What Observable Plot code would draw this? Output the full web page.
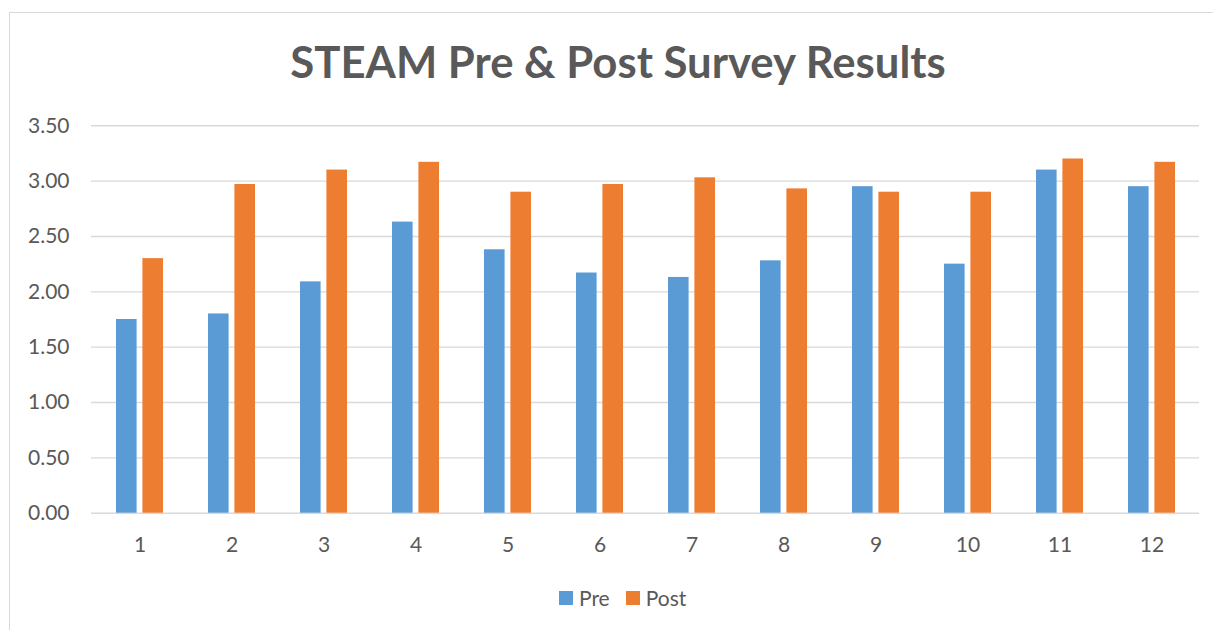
<!DOCTYPE html>
<html><head><meta charset="utf-8">
<script src="https://cdn.jsdelivr.net/npm/d3@7"></script>
<script src="https://cdn.jsdelivr.net/npm/@observablehq/plot@0.6"></script>
<style>
body{margin:0;background:#fff;}
#wrap{position:relative;width:1213px;height:630px;overflow:hidden;font-family:Lato,"Open Sans",sans-serif;color:#595959;background:#fff;}
#chart{position:absolute;left:0;top:0;}
#frame{position:absolute;left:9px;top:12px;width:1300px;height:700px;border:1px solid #d9d9d9;box-sizing:border-box;pointer-events:none;}
#title{position:absolute;left:618px;top:35px;transform:translateX(-50%);white-space:nowrap;font-size:43.7px;line-height:52.4px;font-weight:bold;color:#595959;}
#legend{position:absolute;left:559px;top:586px;display:flex;align-items:center;font-size:21px;line-height:24px;color:#595959;}
#legend .item{display:flex;align-items:center;margin-right:16px;}
#legend .sw{width:14px;height:14px;margin-right:6px;}
</style></head>
<body>
<div id="wrap">
  <div id="chart"></div>
  <div id="frame"></div>
  <div id="title"></div>
  <div id="legend"></div>
</div>
<script>
const titleText = "STEAM Pre & Post Survey Results";
const categories = ["1","2","3","4","5","6","7","8","9","10","11","12"];
const preValues  = [1.75, 1.80, 2.09, 2.63, 2.38, 2.17, 2.13, 2.28, 2.95, 2.25, 3.10, 2.95];
const postValues = [2.30, 2.97, 3.10, 3.17, 2.90, 2.97, 3.03, 2.93, 2.90, 2.90, 3.20, 3.17];
const seriesNames = ["Pre", "Post"];
const seriesColors = ["#5b9bd5", "#ed7d31"];
const yTicks = [0, 0.5, 1.0, 1.5, 2.0, 2.5, 3.0, 3.5];

const preData = categories.map((c, i) => ({category: c, value: preValues[i]}));
const postData = categories.map((c, i) => ({category: c, value: postValues[i]}));

const barInset = 26.4;

const chart = Plot.plot({
  width: 1213,
  height: 630,
  marginTop: 125.3,
  marginBottom: 117.3,
  marginLeft: 91,
  marginRight: 14,
  style: {fontFamily: "Lato, 'Open Sans', sans-serif", fontSize: "21px", color: "#595959", background: "transparent"},
  x: {type: "band", domain: categories, paddingInner: 0.49, paddingOuter: 0.245, label: null},
  y: {domain: [0, 3.5], label: null},
  marks: [
    Plot.ruleY(yTicks, {stroke: "#d9d9d9", strokeWidth: 1.4}),
    Plot.barY(preData, {x: "category", y: "value", fill: seriesColors[0], insetRight: barInset}),
    Plot.barY(postData, {x: "category", y: "value", fill: seriesColors[1], insetLeft: barInset}),
    Plot.axisY(yTicks, {tickSize: 0, tickPadding: 22, tickFormat: d3.format(".2f"), fill: "#595959", label: null}),
    Plot.axisX({tickSize: 0, tickPadding: 24, fill: "#595959", label: null})
  ]
});
document.getElementById("chart").appendChild(chart);

document.getElementById("title").textContent = titleText;
const legend = document.getElementById("legend");
seriesNames.forEach((name, i) => {
  const item = document.createElement("div");
  item.className = "item";
  const sw = document.createElement("div");
  sw.className = "sw";
  sw.style.background = seriesColors[i];
  const label = document.createElement("span");
  label.textContent = name;
  item.appendChild(sw);
  item.appendChild(label);
  legend.appendChild(item);
});
</script>
</body></html>
